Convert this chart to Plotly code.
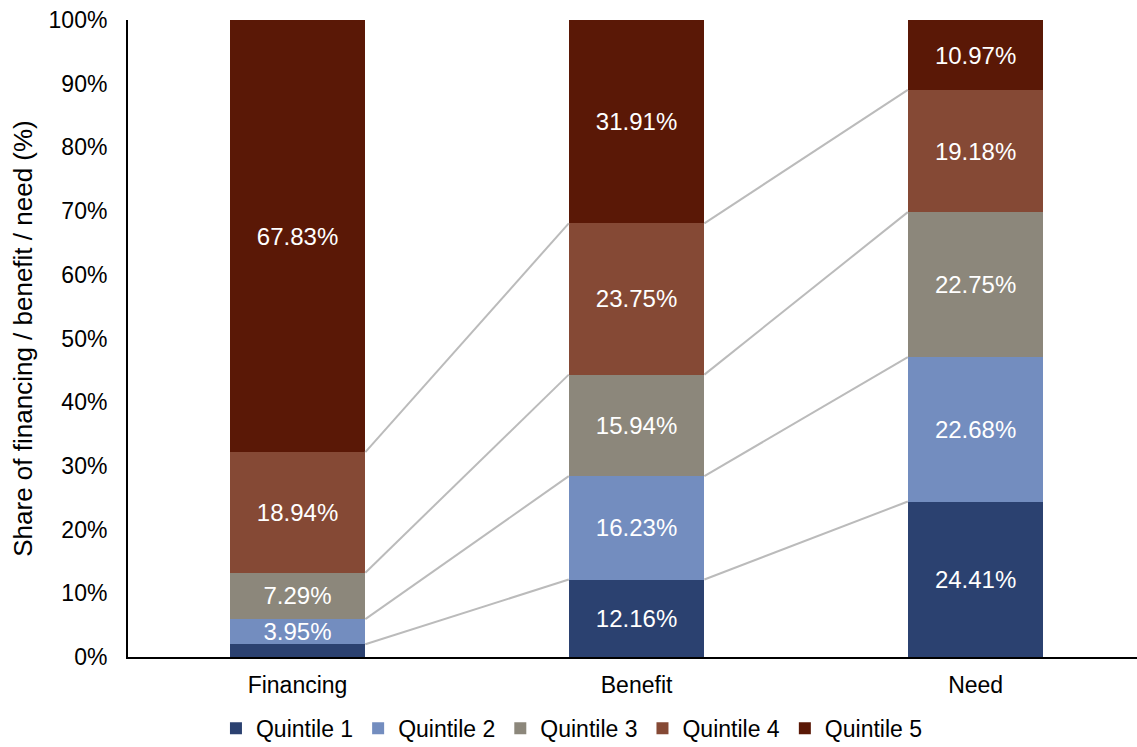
import plotly.graph_objects as go

categories = ["Financing", "Benefit", "Need"]
series_names = ["Quintile 1", "Quintile 2", "Quintile 3", "Quintile 4", "Quintile 5"]
q1 = [1.99, 12.16, 24.41]
q2 = [3.95, 16.23, 22.68]
q3 = [7.29, 15.94, 22.75]
q4 = [18.94, 23.75, 19.18]
q5 = [67.83, 31.91, 10.97]
show_label = [
    [False, True, True],
    [True, True, True],
    [True, True, True],
    [True, True, True],
    [True, True, True],
]
y_ticks = [0, 10, 20, 30, 40, 50, 60, 70, 80, 90, 100]

colors = ["#2B4170", "#738DBF", "#8C877B", "#854935", "#5A1806"]
series = [q1, q2, q3, q4, q5]
xpos = list(range(len(categories)))
bar_w = 0.4

fig = go.Figure()

# connector lines between bars at cumulative boundaries
cums = []
running = [0.0] * len(categories)
for s in series:
    running = [r + v for r, v in zip(running, s)]
    cums.append(list(running))
for level in cums[:-1]:
    for i in range(len(categories) - 1):
        fig.add_trace(go.Scatter(
            x=[xpos[i] + bar_w / 2, xpos[i + 1] - bar_w / 2],
            y=[level[i], level[i + 1]],
            mode="lines", line=dict(color="#BBBBBB", width=2),
            showlegend=False, hoverinfo="skip"))

for name, vals, col, show in zip(series_names, series, colors, show_label):
    texts = [f"{v:.2f}%" if s else "" for v, s in zip(vals, show)]
    fig.add_trace(go.Bar(
        x=xpos, y=vals, name=name, width=bar_w,
        marker=dict(color=col, line=dict(width=0)),
        text=texts, textposition="inside", insidetextanchor="middle",
        textangle=0, textfont=dict(color="white", size=24),
        hoverinfo="skip"))

fig.update_layout(
    barmode="stack",
    width=1137, height=747,
    margin=dict(l=128, r=0, t=20, b=90, autoexpand=False),
    paper_bgcolor="white", plot_bgcolor="white",
    font=dict(family="Liberation Sans, Arial, sans-serif", size=23, color="#000000"),
    uniformtext=dict(minsize=24, mode="show"),
    showlegend=True,
    legend=dict(orientation="h", x=0.44, xanchor="center", y=-0.112, yanchor="middle",
                font=dict(size=23), traceorder="normal", itemwidth=30,
                tracegroupgap=0),
    xaxis=dict(tickmode="array", tickvals=xpos, ticktext=categories,
               range=[-0.5, 2.476], showline=True, linecolor="black", linewidth=2,
               ticks="", showgrid=False, zeroline=False, fixedrange=True,
               ticklabelstandoff=6, tickfont=dict(size=23)),
    yaxis=dict(range=[0, 100], tickvals=y_ticks, ticktext=[f"{t}%" for t in y_ticks],
               showline=True, linecolor="black", linewidth=2, ticks="",
               showgrid=False, zeroline=False, tickfont=dict(size=23),
               ticklabelstandoff=14,
               title=dict(text="Share of financing / benefit / need (%)", font=dict(size=26), standoff=8)),
)

fig.write_html("out.html")
